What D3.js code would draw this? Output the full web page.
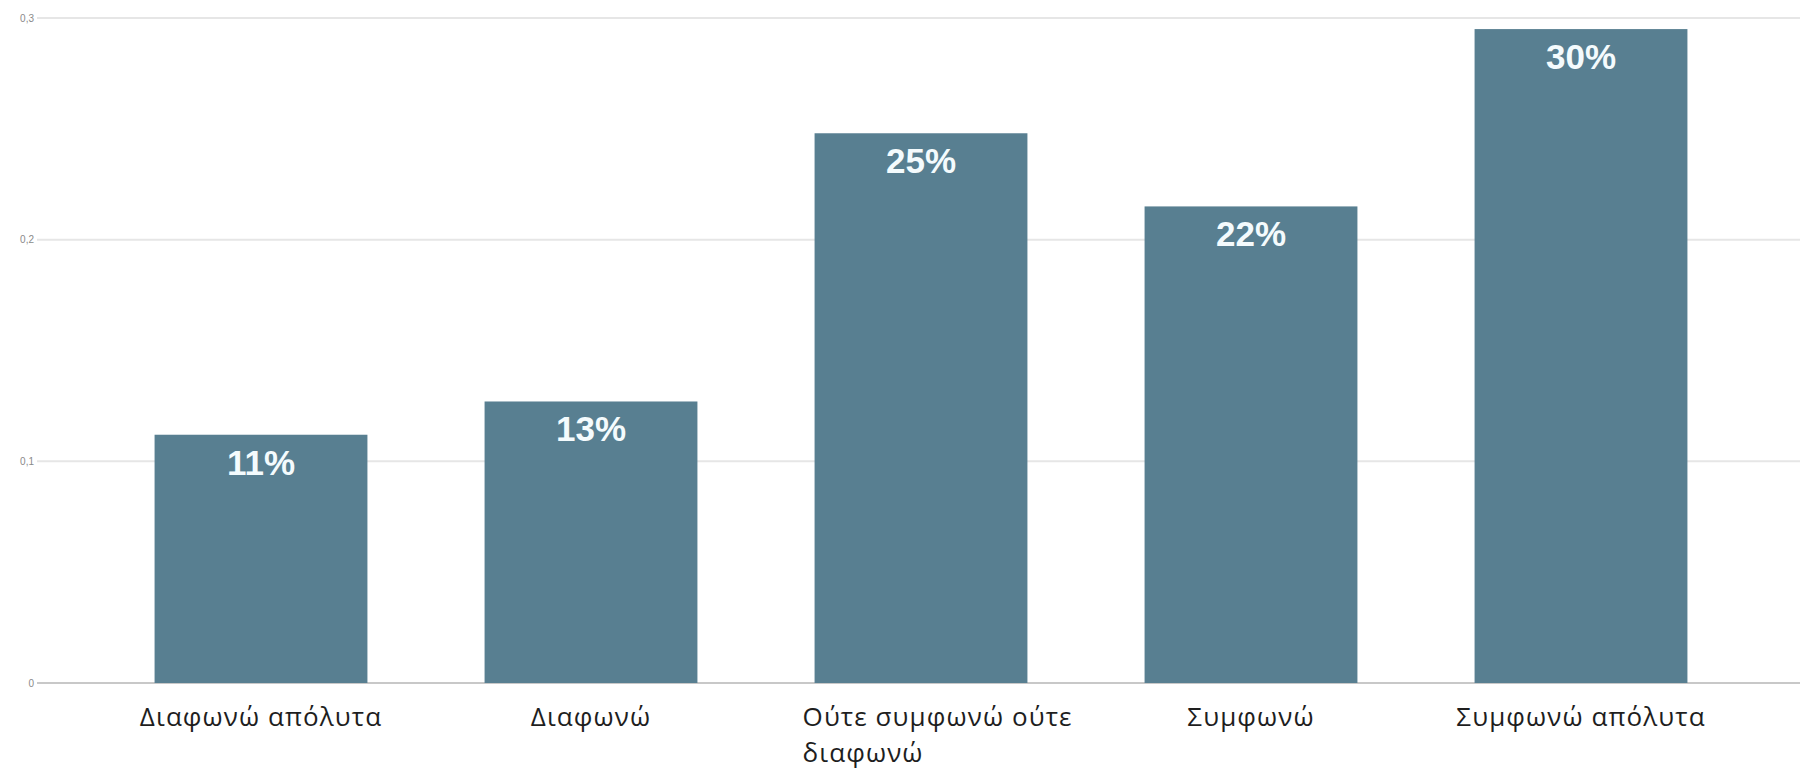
<!DOCTYPE html>
<html>
<head>
<meta charset="utf-8">
<script src="https://cdn.jsdelivr.net/npm/d3@7"></script>
<style>
  html, body { margin: 0; padding: 0; background: #ffffff; }
  svg { display: block; }
</style>
</head>
<body>
<svg id="chart" width="1800" height="772"></svg>
<script>
const categories = ["Διαφωνώ απόλυτα", "Διαφωνώ", "Ούτε συμφωνώ ούτε διαφωνώ", "Συμφωνώ", "Συμφωνώ απόλυτα"];
const values = [0.112, 0.127, 0.248, 0.215, 0.295];
const valueLabels = ["11%", "13%", "25%", "22%", "30%"];
const yTicks = [0, 0.1, 0.2, 0.3];
const yTickLabels = ["0", "0,1", "0,2", "0,3"];

const svg = d3.select("#chart");
const plotTop = 18, plotBottom = 683, plotLeft = 37, plotRight = 1800;

const y = d3.scaleLinear().domain([0, 0.3]).range([plotBottom, plotTop]);
const x = d3.scaleBand().domain(categories).range([96, 1746]).paddingInner(0.355).paddingOuter(0.1775);

// gridlines
svg.append("g").selectAll("line").data(yTicks).join("line")
  .attr("x1", plotLeft).attr("x2", plotRight)
  .attr("y1", d => y(d)).attr("y2", d => y(d))
  .attr("stroke", d => d === 0 ? "#c8c8c8" : "#e6e6e6")
  .attr("stroke-width", 2);

// y axis labels
const yAxis = d3.axisLeft(y).tickValues(yTicks).tickSize(0).tickPadding(0)
  .tickFormat((d, i) => yTickLabels[i]);
const gy = svg.append("g").attr("transform", "translate(34,0)").call(yAxis);
gy.select(".domain").remove();
gy.selectAll("text").attr("fill", "#8a8a8a")
  .style("font-family", "Arial, 'Liberation Sans', sans-serif").style("font-size", "10px");

// bars
svg.append("g").selectAll("rect").data(values).join("rect")
  .attr("x", (d, i) => x(categories[i]))
  .attr("width", x.bandwidth())
  .attr("y", d => y(d))
  .attr("height", d => y(0) - y(d))
  .attr("fill", "#587f91");

// value labels
svg.append("g").selectAll("text").data(values).join("text")
  .attr("x", (d, i) => x(categories[i]) + x.bandwidth() / 2)
  .attr("y", d => y(d) + 40)
  .attr("text-anchor", "middle")
  .attr("fill", "#f4fbfd")
  .style("font-family", "Arial, 'Liberation Sans', sans-serif")
  .style("font-weight", "bold")
  .style("font-size", "35px")
  .text((d, i) => valueLabels[i]);

// x labels
const xl = svg.append("g");
const labelStyle = sel => sel
  .attr("fill", "#1e1e1e")
  .style("font-family", "'Open Sans', 'Noto Sans', sans-serif")
  .style("font-size", "26px")
  .style("letter-spacing", "1.1px");
categories.forEach((c, i) => {
  const cx = x(c) + x.bandwidth() / 2;
  if (c.length > 18) {
    xl.append("text").call(labelStyle).attr("text-anchor", "start")
      .attr("x", x(c) - 12).attr("y", 726).text("Ούτε συμφωνώ ούτε");
    xl.append("text").call(labelStyle).attr("text-anchor", "start")
      .attr("x", x(c) - 12).attr("y", 762).text("διαφωνώ");
  } else {
    xl.append("text").call(labelStyle)
      .attr("x", cx).attr("y", 726).attr("text-anchor", "middle").text(c);
  }
});
</script>
</body>
</html>
